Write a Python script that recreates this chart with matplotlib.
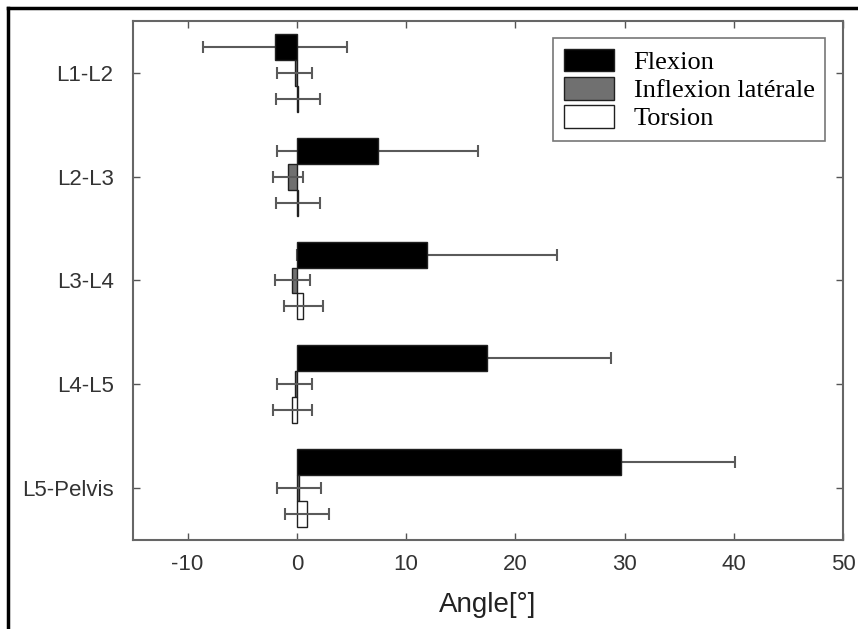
import numpy as np
import matplotlib.pyplot as plt
from matplotlib.lines import Line2D

plt.switch_backend('agg')
plt.rcParams['axes.unicode_minus'] = False

levels = ["L1-L2", "L2-L3", "L3-L4", "L4-L5", "L5-Pelvis"]
series = ["Flexion", "Inflexion latérale", "Torsion"]

flexion = [-2.0, 7.4, 11.9, 17.4, 29.7]
flexion_sd = [6.6, 9.2, 11.9, 11.4, 10.4]
inflexion = [-0.2, -0.8, -0.4, -0.2, 0.2]
inflexion_sd = [1.6, 1.4, 1.6, 1.6, 2.05]
torsion = [0.1, 0.1, 0.6, -0.4, 0.9]
torsion_sd = [2.0, 2.0, 1.75, 1.75, 2.0]

colors = ["#000000", "#707070", "#ffffff"]
err_color = "#5a5a5a"
barh = 0.25
offsets = [-0.25, 0.0, 0.25]

fig = plt.figure(figsize=(8.58, 6.29), dpi=100)
ax = fig.add_axes([133 / 858, 1 - 540 / 629, 710 / 858, 519 / 629])

ypos = np.arange(1, len(levels) + 1)
data = [(flexion, flexion_sd), (inflexion, inflexion_sd), (torsion, torsion_sd)]
for i, (vals, sds) in enumerate(data):
    y = ypos + offsets[i]
    ax.barh(y, vals, height=barh, color=colors[i], edgecolor="#202020",
            linewidth=1.0, label=series[i], zorder=2)
    # flexion error bars sit behind their bars, the small ones in front
    ax.errorbar(vals, y, xerr=sds, fmt="none", ecolor=err_color,
                elinewidth=1.5, capsize=4, capthick=1.5,
                zorder=1 if i == 0 else 3)

ax.set_xlim(-15, 50)
ax.set_ylim(5.5, 0.5)
ax.set_xticks([-10, 0, 10, 20, 30, 40, 50])
ax.set_yticks(ypos)
ax.set_yticklabels(levels)
ax.tick_params(axis="both", direction="in", top=True, right=True,
               length=5, width=1, color="#555555", labelsize=16, labelcolor="#333333")
ax.tick_params(axis="x", pad=10)
ax.tick_params(axis="y", pad=14)
for lab in ax.get_xticklabels() + ax.get_yticklabels():
    lab.set_family("Liberation Sans")
for sp in ax.spines.values():
    sp.set_color("#666666")
    sp.set_linewidth(1.5)
ax.set_xlabel("Angle[°]", fontsize=20, family="Liberation Sans", color="#222222", labelpad=12)

leg = ax.legend(loc="upper right", bbox_to_anchor=(0.975, 0.967), borderaxespad=0,
                prop={"family": "Liberation Serif", "size": 19}, frameon=True,
                fancybox=False, edgecolor="#555555", handlelength=1.9,
                handleheight=0.95, labelspacing=0.1, handletextpad=0.75,
                borderpad=0.4)
leg.get_frame().set_linewidth(1.2)

# outer frame of the picture (top and left)
fig.add_artist(Line2D([8 / 858, 1], [1 - 8 / 629, 1 - 8 / 629], color="black", linewidth=2.5))
fig.add_artist(Line2D([8 / 858, 8 / 858], [0, 1 - 8 / 629], color="black", linewidth=2.5))

fig.savefig("out.png", dpi=100)
